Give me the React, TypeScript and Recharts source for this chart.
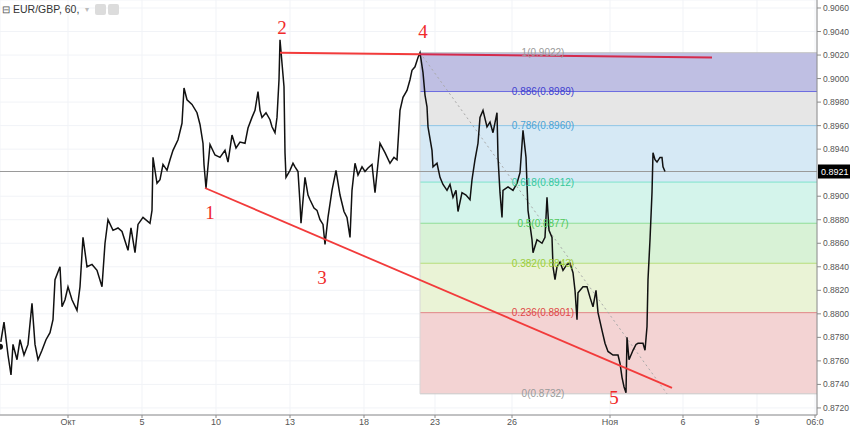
import React from 'react';
import {
  ComposedChart, Line, XAxis, YAxis, CartesianGrid,
  ReferenceArea, ReferenceLine, ReferenceDot,
} from 'recharts';

// EUR/GBP hourly closes (x = hour index)
const priceHours = [
  0, 4, 8, 11, 13, 17, 20, 24, 28, 32, 35, 38, 42, 46, 50, 53, 55, 60, 62, 65,
  68, 72, 77, 80, 83, 87, 92, 97, 102, 105, 108, 113, 118, 122, 128, 131, 135, 138, 143, 150,
  152, 153, 157, 160, 163, 167, 170, 173, 178, 182, 184, 187, 192, 197, 200, 203, 204, 206, 210, 215,
  220, 225, 228, 232, 236, 240, 245, 248, 252, 255, 258, 260, 262, 266, 270, 272, 275, 277, 279, 280,
  282, 284, 285, 286, 290, 293, 295, 298, 300, 301, 305, 308, 310, 314, 317, 320, 323, 325, 328, 332,
  336, 340, 344, 347, 350, 352, 355, 358, 362, 365, 368, 372, 375, 378, 380, 385, 390, 394, 397, 400,
  403, 407, 410, 412, 415, 418, 420, 423, 425, 427, 428, 432, 433, 437, 440, 443, 447, 450, 453, 456,
  458, 462, 466, 470, 472, 475, 478, 480, 483, 487, 490, 493, 497, 498, 500, 502, 503, 508, 513, 517,
  520, 523, 526, 528, 532, 533, 537, 542, 545, 547, 549, 552, 553, 555, 557, 560, 563, 567, 570, 573,
  575, 577, 578, 583, 587, 590, 593, 596, 598, 602, 605, 608, 613, 618, 620, 622, 624, 626, 627, 629,
  633, 636, 638, 643, 645, 647, 648, 650, 652, 653, 655, 657, 660, 662, 663, 665,
];
const priceCloses = [
  0.8772, 0.8793, 0.8765, 0.8748, 0.8774, 0.8761, 0.8778, 0.8765, 0.8774, 0.8809, 0.8774, 0.8761, 0.8769, 0.8778, 0.8784, 0.8795, 0.8829, 0.8840, 0.8806, 0.8812,
  0.8823, 0.8812, 0.8803, 0.8823, 0.8865, 0.8840, 0.8842, 0.8837, 0.8823, 0.8860, 0.8880, 0.8871, 0.8873, 0.8870, 0.8854, 0.8873, 0.8852, 0.8876, 0.8882, 0.8877,
  0.8888, 0.8933, 0.8911, 0.8914, 0.8927, 0.8922, 0.8931, 0.8939, 0.8948, 0.8962, 0.8992, 0.8982, 0.8978, 0.8971, 0.8961, 0.8945, 0.8927, 0.8907, 0.8944, 0.8935,
  0.8933, 0.8939, 0.8929, 0.8952, 0.8941, 0.8946, 0.8945, 0.8958, 0.8967, 0.8973, 0.8989, 0.8973, 0.8967, 0.8971, 0.8965, 0.8959, 0.8954, 0.8967, 0.8999, 0.9033,
  0.9013, 0.8993, 0.8937, 0.8916, 0.8922, 0.8928, 0.8925, 0.8921, 0.8894, 0.8877, 0.8916, 0.8901, 0.8897, 0.8890, 0.8888, 0.8880, 0.8876, 0.8859, 0.8882, 0.8905,
  0.8922, 0.8901, 0.8887, 0.8882, 0.8865, 0.8905, 0.8928, 0.8918, 0.8925, 0.8921, 0.8924, 0.8927, 0.8903, 0.8928, 0.8945, 0.8937, 0.8928, 0.8933, 0.8931, 0.8973,
  0.8984, 0.8990, 0.8999, 0.9007, 0.9010, 0.9018, 0.9022, 0.9005, 0.8986, 0.8976, 0.8959, 0.8939, 0.8925, 0.8928, 0.8916, 0.8910, 0.8905, 0.8910, 0.8899, 0.8905,
  0.8887, 0.8903, 0.8901, 0.8897, 0.8914, 0.8931, 0.8945, 0.8967, 0.8973, 0.8959, 0.8963, 0.8954, 0.8971, 0.8933, 0.8903, 0.8882, 0.8905, 0.8908, 0.8905, 0.8911,
  0.8920, 0.8956, 0.8933, 0.8888, 0.8863, 0.8852, 0.8863, 0.8860, 0.8865, 0.8899, 0.8871, 0.8865, 0.8840, 0.8829, 0.8840, 0.8844, 0.8837, 0.8842, 0.8843, 0.8835,
  0.8820, 0.8795, 0.8818, 0.8823, 0.8823, 0.8814, 0.8806, 0.8820, 0.8801, 0.8786, 0.8775, 0.8768, 0.8765, 0.8765, 0.8758, 0.8746, 0.8738, 0.8733, 0.8780, 0.8761,
  0.8769, 0.8774, 0.8775, 0.8775, 0.8769, 0.8789, 0.8829, 0.8863, 0.8903, 0.8937, 0.8931, 0.8929, 0.8933, 0.8933, 0.8925, 0.8921,
];

// Fibonacci retracement from wave 4 high to wave 5 low
const fibRatios = ['1', '0.886', '0.786', '0.618', '0.5', '0.382', '0.236', '0'];
const fibPrices = [0.9022, 0.8989, 0.8960, 0.8912, 0.8877, 0.8843, 0.8801, 0.8732];
const fibStartHour = 420;
const fibEndHour = 817;
const fibLabelHour = 543;
const fibTrendHours = [420, 667];
const fibTrendPrices = [0.9022, 0.8732];

// red trend lines
const resistanceHours = [280, 712];
const resistancePrices = [0.9022, 0.9018];
const supportHours = [205, 672];
const supportPrices = [0.8907, 0.8737];

// wave numbers
const waveLabels = ['1', '2', '3', '4', '5'];
const waveHours = [210, 282, 322, 423, 614];
const wavePrices = [0.8886, 0.9043, 0.8831, 0.9040, 0.87285];

const lastPrice = 0.8921;

const dateTicks = [68, 142, 216, 290, 364, 435, 512, 610, 683, 757, 815];
const dateLabels = ['Окт', '5', '10', '13', '18', '23', '26', 'Ноя', '6', '9', '06:0'];
const priceTicks = [
  0.872, 0.874, 0.876, 0.878, 0.880, 0.882, 0.884, 0.886, 0.888, 0.890,
  0.894, 0.896, 0.898, 0.900, 0.902, 0.904, 0.906,
];

const bandFills = ['#bfbfe3', '#e6e6e6', '#d6e9f5', '#d4f4eb', '#d8f2d6', '#eaf3d6', '#f3d3d3'];
const levelStrokes = ['#c4c4c4', '#6b6be0', '#8ec5e6', '#7fe3cc', '#8edd96', '#b5dd7a', '#e08585', '#c9c9c9'];
const levelText = ['#9a9a9a', '#3f3fd0', '#4aa3d6', '#35c79c', '#4fc75a', '#9ccc3a', '#e04848', '#9a9a9a'];

const data = priceHours.map((h, i) => ({ hour: h, price: priceCloses[i] }));

const font = '"Liberation Sans", Arial, sans-serif';

// where the resistance line crosses the start of the fib zone
const resistanceAtFib = resistancePrices[0] -
  (resistancePrices[0] - resistancePrices[1]) * (fibStartHour - resistanceHours[0]) / (resistanceHours[1] - resistanceHours[0]);

function PriceTag(props: any) {
  const { viewBox } = props;
  const x = viewBox.x + viewBox.width + 1;
  const y = viewBox.y;
  return (
    <g>
      <rect x={x} y={y - 7} width={33} height={14} fill="#000" />
      <text x={x + 3} y={y} fill="#fff" fontSize={9} fontFamily={font} dominantBaseline="central">
        {lastPrice.toFixed(4)}
      </text>
    </g>
  );
}

export default function App() {
  return (
    <div style={{ position: 'absolute', left: 0, top: 0, width: 850, height: 430, background: '#fff' }}>
      <ComposedChart width={850} height={430} data={data} margin={{ top: 0, right: 0, bottom: 0, left: 0 }}>
        <CartesianGrid stroke="#f1f3f7" />
        <XAxis
          dataKey="hour" type="number" domain={[0, fibEndHour]} ticks={dateTicks}
          tickFormatter={(v) => dateLabels[dateTicks.indexOf(v)]}
          height={15} tickSize={3} tickMargin={1} stroke="#8a8a8a"
          tick={{ fontSize: 9, fill: '#555', fontFamily: font }} interval={0}
        />
        <YAxis
          orientation="right" type="number" domain={[0.8714, 0.90668]} ticks={priceTicks}
          tickFormatter={(v) => v.toFixed(4)} width={33} tickSize={4} tickMargin={2}
          stroke="#8a8a8a" tick={{ fontSize: 8.5, fill: '#555', fontFamily: font }} interval={0}
        />
        {bandFills.map((c, i) => (
          <ReferenceArea key={'b' + i} x1={fibStartHour} x2={fibEndHour}
            y1={fibPrices[i + 1]} y2={fibPrices[i]} fill={c} fillOpacity={1} stroke="none" />
        ))}
        {fibPrices.map((p, i) => (
          <ReferenceLine key={'l' + i} segment={[{ x: fibStartHour, y: p }, { x: fibEndHour, y: p }]}
            stroke={levelStrokes[i]} strokeWidth={1} />
        ))}
        <ReferenceLine segment={[{ x: fibStartHour, y: fibPrices[0] }, { x: fibStartHour, y: fibPrices[7] }]}
          stroke="#d8d8d8" strokeWidth={1} />
        <ReferenceLine y={lastPrice} stroke="#9a9a9a" strokeWidth={1} label={<PriceTag />} />
        <ReferenceLine
          segment={[{ x: fibTrendHours[0], y: fibTrendPrices[0] }, { x: fibTrendHours[1], y: fibTrendPrices[1] }]}
          stroke="#a8a8a8" strokeDasharray="2 3" strokeWidth={1} />
        <Line type="linear" dataKey="price" stroke="#111" strokeWidth={1.5} dot={false} isAnimationActive={false} />
        {fibPrices.map((p, i) => (
          <ReferenceDot key={'t' + i} x={fibLabelHour} y={p} r={0}
            shape={(s: any) => (
              <text x={s.cx} y={s.cy} textAnchor="middle" dominantBaseline="central"
                fontSize={10} fontFamily={font} fill={levelText[i]}>
                {fibRatios[i]}({p.toFixed(4)})
              </text>
            )} />
        ))}
        <ReferenceLine
          segment={[{ x: resistanceHours[0], y: resistancePrices[0] }, { x: fibStartHour, y: resistanceAtFib }]}
          stroke="#f23b3b" strokeWidth={2} />
        <ReferenceLine
          segment={[{ x: fibStartHour, y: resistanceAtFib }, { x: resistanceHours[1], y: resistancePrices[1] }]}
          stroke="#d42a4c" strokeWidth={2} />
        <ReferenceLine
          segment={[{ x: supportHours[0], y: supportPrices[0] }, { x: supportHours[1], y: supportPrices[1] }]}
          stroke="#f23b3b" strokeWidth={1.8} />
        {waveLabels.map((w, i) => (
          <ReferenceDot key={'w' + i} x={waveHours[i]} y={wavePrices[i]} r={0} ifOverflow="visible"
            shape={(s: any) => (
              <text x={s.cx} y={s.cy} textAnchor="middle" dominantBaseline="central"
                fontSize={19} fontFamily='"Liberation Serif", "Times New Roman", serif' fill="#f02a2a">
                {w}
              </text>
            )} />
        ))}
      </ComposedChart>
      <div style={{ position: 'absolute', left: 2, top: 3, display: 'flex', alignItems: 'center', fontFamily: font, fontSize: 10.5, color: '#333' }}>
        <span style={{ fontSize: 10, color: '#555', marginRight: 3 }}>⊟</span>
        <span>EUR/GBP, 60,</span>
        <span style={{ color: '#bbb', fontSize: 8, marginLeft: 6 }}>▾</span>
        <span style={{ width: 11, height: 11, background: '#dcdcdc', borderRadius: 2, marginLeft: 6 }} />
        <span style={{ width: 11, height: 11, background: '#dcdcdc', borderRadius: 2, marginLeft: 2 }} />
      </div>
    </div>
  );
}
